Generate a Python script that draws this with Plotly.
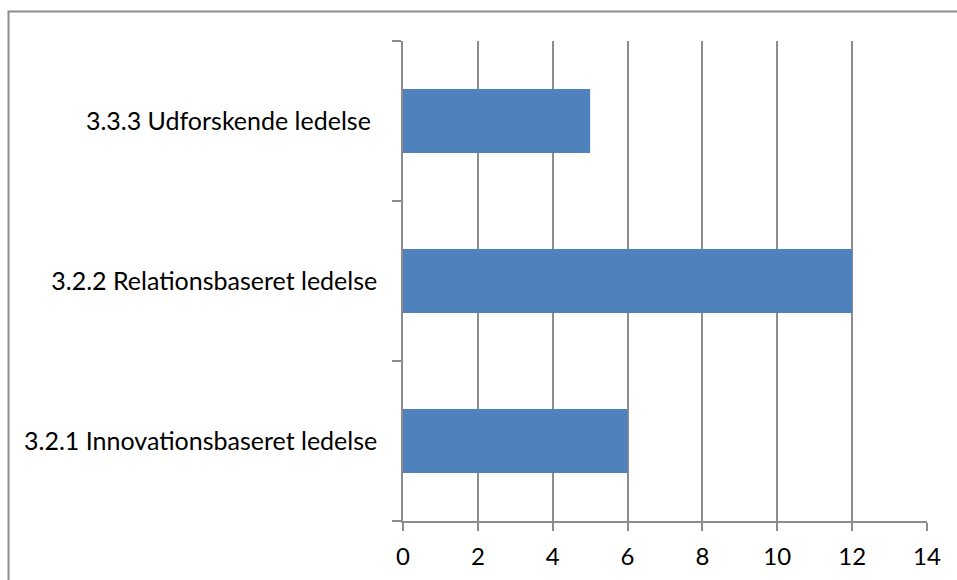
import plotly.graph_objects as go

categories = ["3.2.1 Innovationsbaseret ledelse", "3.2.2 Relationsbaseret ledelse", "3.3.3 Udforskende ledelse "]
values = [6, 12, 5]
x_ticks = [0, 2, 4, 6, 8, 10, 12, 14]

FONT = "Lato, Calibri, Carlito, sans-serif"

fig = go.Figure(go.Bar(
    x=values, y=categories, orientation="h",
    marker=dict(color="#4F81BD", line=dict(width=0)),
    width=0.4,
))

fig.update_layout(
    width=957, height=580,
    margin=dict(l=403, r=30, t=41, b=59),
    paper_bgcolor="white", plot_bgcolor="white",
    font=dict(family=FONT, size=25, color="black"),
    showlegend=False,
    bargap=0.6,
    shapes=[dict(type="rect", xref="paper", yref="paper",
                 x0=-403/524 + 8.5/524, x1=1.2, y0=-0.3, y1=1 + 29.5/480,
                 line=dict(color="#8C8C8C", width=2), fillcolor="rgba(0,0,0,0)", layer="below")],
)

fig.update_xaxes(
    range=[0, 14], tickvals=x_ticks, ticktext=[str(v) for v in x_ticks],
    showgrid=True, gridcolor="#8C8C8C", gridwidth=1.5,
    showline=True, linecolor="#8C8C8C", linewidth=1.5,
    ticks="outside", ticklen=8, tickcolor="#8C8C8C", tickwidth=1.5,
    ticklabelstandoff=5, zeroline=False, automargin=False,
    tickfont=dict(family=FONT, size=24, color="black"),
)
fig.update_yaxes(
    type="category", categoryorder="array", categoryarray=categories,
    range=[-0.5, 2.5],
    showgrid=False, showline=True, linecolor="#8C8C8C", linewidth=1.5,
    ticks="outside", tickson="boundaries", ticklen=9, tickcolor="#8C8C8C", tickwidth=1.5,
    ticklabelstandoff=19, zeroline=False, automargin=False,
    tickfont=dict(family=FONT, size=25, color="black"),
)

fig.write_html("out.html")
